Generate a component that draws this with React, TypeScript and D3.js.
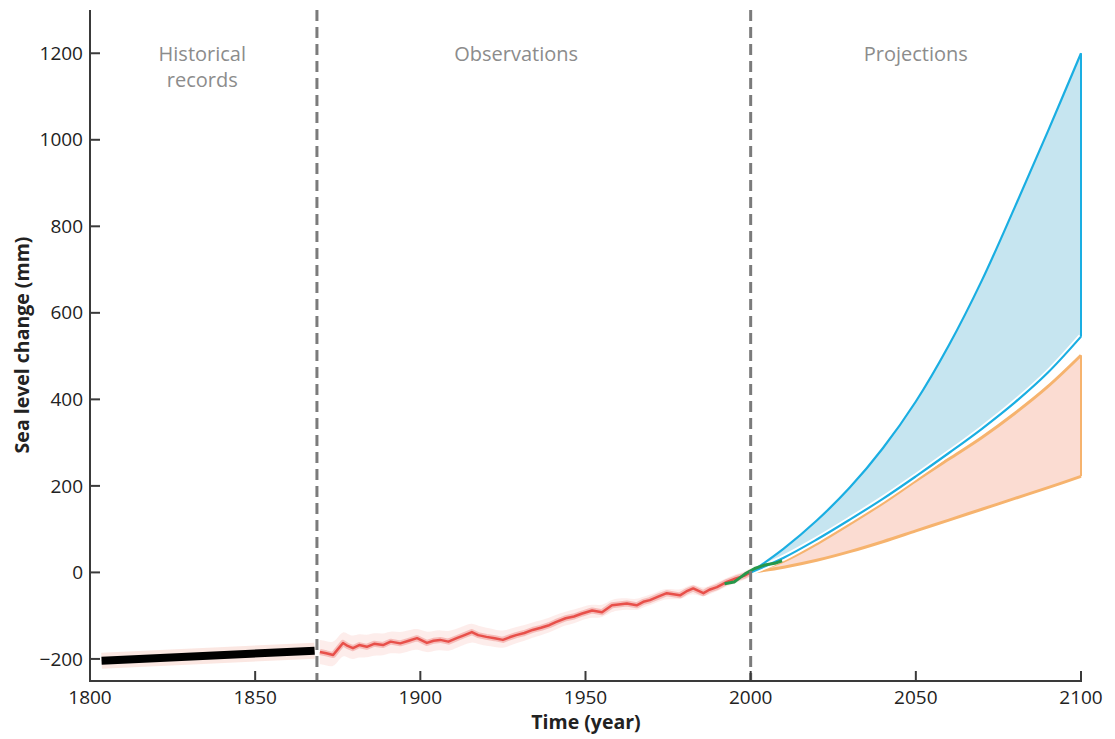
import React from "react";
import * as d3 from "d3";

const W = 1115;
const H = 739;

const xTicks = [1800, 1850, 1900, 1950, 2000, 2050, 2100];
const yTicks = [-200, 0, 200, 400, 600, 800, 1000, 1200];
const eraLabels = [
  { lines: ["Historical", "records"], year: 1834 },
  { lines: ["Observations"], year: 1929 },
  { lines: ["Projections"], year: 2050 },
];
const dividers = [1868.7, 2000];

// historical (tide-gauge based) trend
const historical: [number, number][] = [
  [1803.5, -204],
  [1868, -181],
];

// observations: [year, value, uncertainty]
const observations: [number, number, number][] = [
  [1869.6, -184, 28],
  [1871.5, -187, 28],
  [1873.6, -191, 28],
  [1875, -178, 28],
  [1876.6, -163, 28],
  [1878, -170, 27],
  [1879.6, -175, 27],
  [1881.5, -168, 27],
  [1883.8, -172, 26],
  [1886, -165, 26],
  [1888.7, -168, 25],
  [1891, -160, 25],
  [1893.9, -164, 25],
  [1896.5, -158, 24],
  [1899, -152, 24],
  [1902, -163, 24],
  [1904, -158, 23],
  [1906, -156, 23],
  [1908.5, -160, 23],
  [1911, -152, 22],
  [1913, -146, 22],
  [1915.6, -138, 22],
  [1917.5, -145, 21],
  [1920, -149, 21],
  [1922.5, -152, 20],
  [1925, -156, 20],
  [1927, -150, 19],
  [1929, -145, 19],
  [1931.5, -140, 18],
  [1934, -133, 18],
  [1936.5, -128, 17],
  [1939, -122, 17],
  [1941, -115, 17],
  [1944, -106, 16],
  [1946.5, -102, 16],
  [1949, -95, 15],
  [1952, -88, 15],
  [1955, -92, 14],
  [1958, -76, 14],
  [1960, -74, 14],
  [1962.5, -72, 13],
  [1965.5, -76, 13],
  [1967.5, -68, 12],
  [1969.5, -64, 12],
  [1972, -56, 12],
  [1974.6, -48, 12],
  [1978.6, -53, 11],
  [1980.5, -44, 11],
  [1982.6, -37, 11],
  [1985.7, -48, 10],
  [1987.5, -40, 10],
  [1989.8, -34, 10],
  [1992.8, -22, 10],
  [1995.5, -14, 10],
  [1998, -8, 10],
  [2000, 0, 10],
];

// satellite altimetry
const satellite: [number, number][] = [
  [1992.1, -26],
  [1995, -22],
  [1996.8, -12],
  [1998.6, -2],
  [2001.2, 9],
  [2004.2, 17],
  [2007.3, 21],
  [2009.5, 27],
];

const projYears = [2000, 2010, 2020, 2030, 2040, 2050, 2060, 2070, 2080, 2090, 2100];
const blueUpper = [0, 55, 120, 196, 287, 395, 525, 675, 845, 1020, 1200];
const blueLower = [0, 34, 76, 122, 170, 222, 276, 332, 393, 462, 545];
const orangeUpper = [0, 26, 66, 112, 160, 212, 262, 312, 368, 430, 502];
const orangeLower = [0, 12, 28, 48, 71, 96, 121, 146, 171, 196, 222];

const M = { left: 90, right: 1081, top: 10, bottom: 681 };

export default function App() {
  const x = d3.scaleLinear().domain([1800, 2100]).range([M.left, M.right]);
  const y = d3.scaleLinear().domain([-251, 1300]).range([M.bottom, M.top]);

  const line = d3
    .line<[number, number]>()
    .x((d) => x(d[0]))
    .y((d) => y(d[1]));

  const obsLine = d3
    .line<[number, number, number]>()
    .x((d) => x(d[0]))
    .y((d) => y(d[1]));
  const obsBand = d3
    .area<[number, number, number]>()
    .x((d) => x(d[0]))
    .y0((d) => y(d[1] - d[2]))
    .y1((d) => y(d[1] + d[2]))
    .curve(d3.curveBasis);

  const curve = d3.curveCatmullRom.alpha(0.5);
  const proj = (a: number[], b: number[]) =>
    d3
      .area<number>()
      .x((_, i) => x(projYears[i]))
      .y0((_, i) => y(a[i]))
      .y1((_, i) => y(b[i]))
      .curve(curve)(projYears);
  const projLine = (a: number[]) =>
    d3
      .line<number>()
      .x((_, i) => x(projYears[i]))
      .y((_, i) => y(a[i]))
      .curve(curve)(projYears);

  const font = "'Open Sans', 'Noto Sans', sans-serif";
  const axisColor = "#3a3a3a";

  return (
    <svg
      width={W}
      height={H}
      style={{ position: "absolute", left: 0, top: 0, background: "#fff" }}
      fontFamily={font}
    >
      {/* era labels */}
      {eraLabels.map((l, i) =>
        l.lines.map((t, j) => (
          <text
            key={i + "-" + j}
            x={x(l.year)}
            y={61 + j * 26}
            textAnchor="middle"
            fontSize={20}
            fill="#8c8c8c"
          >
            {t}
          </text>
        ))
      )}

      {/* projections */}
      <path d={proj(orangeLower, orangeUpper) || ""} fill="#fbdcd2" />
      <path d={proj(blueLower, blueUpper) || ""} fill="#c6e5f0" />
      <path d={projLine(orangeLower) || ""} fill="none" stroke="#f6b36e" strokeWidth={3} />
      <path d={projLine(orangeUpper) || ""} fill="none" stroke="#f6b36e" strokeWidth={3} />
      <line
        x1={x(2100)}
        x2={x(2100)}
        y1={y(orangeLower[orangeLower.length - 1])}
        y2={y(orangeUpper[orangeUpper.length - 1])}
        stroke="#f6b36e"
        strokeWidth={2}
      />
      <path d={projLine(blueLower) || ""} fill="none" stroke="#ffffff" strokeWidth={6} />
      <path d={projLine(blueUpper) || ""} fill="none" stroke="#1aaee2" strokeWidth={2.2} />
      <path d={projLine(blueLower) || ""} fill="none" stroke="#1aaee2" strokeWidth={2.2} />
      <line
        x1={x(2100)}
        x2={x(2100)}
        y1={y(blueLower[blueLower.length - 1])}
        y2={y(blueUpper[blueUpper.length - 1])}
        stroke="#1aaee2"
        strokeWidth={2}
      />

      {/* historical */}
      <path
        d={line(historical) || ""}
        fill="none"
        stroke="#f3b0a0"
        strokeOpacity={0.3}
        strokeWidth={16}
      />
      <path d={line(historical) || ""} fill="none" stroke="#000" strokeWidth={8} />

      {/* observations */}
      <path d={obsBand(observations) || ""} fill="#ec6a5c" fillOpacity={0.12} />
      <path
        d={obsLine(observations) || ""}
        fill="none"
        stroke="#e8504a"
        strokeOpacity={0.3}
        strokeWidth={6}
        strokeLinejoin="round"
      />
      <path
        d={obsLine(observations) || ""}
        fill="none"
        stroke="#e8504a"
        strokeWidth={2.5}
        strokeLinejoin="round"
      />

      {/* satellite */}
      <path
        d={line(satellite) || ""}
        fill="none"
        stroke="#27974a"
        strokeWidth={3}
        strokeLinejoin="round"
      />

      {/* dividers */}
      {dividers.map((d, i) => (
        <line
          key={i}
          x1={x(d)}
          x2={x(d)}
          y1={M.top}
          y2={M.bottom}
          stroke="#7b7b7b"
          strokeWidth={3}
          strokeDasharray="11 6"
        />
      ))}

      {/* axes */}
      <line x1={M.left} x2={M.left} y1={M.top} y2={M.bottom} stroke={axisColor} strokeWidth={2} />
      <line x1={M.left - 1} x2={M.right + 1} y1={M.bottom} y2={M.bottom} stroke={axisColor} strokeWidth={2} />
      {yTicks.map((t) => (
        <g key={t}>
          <line x1={M.left} x2={M.left + 10} y1={y(t)} y2={y(t)} stroke={axisColor} strokeWidth={2} />
          <text
            x={M.left - 7}
            y={y(t)}
            dy="0.35em"
            textAnchor="end"
            fontSize={19}
            fill="#222"
          >
            {t < 0 ? "\u2212" + Math.abs(t) : t}
          </text>
        </g>
      ))}
      {xTicks.map((t) => (
        <g key={t}>
          <line x1={x(t)} x2={x(t)} y1={M.bottom} y2={M.bottom - 10} stroke={axisColor} strokeWidth={2} />
          <text x={x(t)} y={704} textAnchor="middle" fontSize={19} fill="#222">
            {t}
          </text>
        </g>
      ))}

      <text
        x={586}
        y={729}
        textAnchor="middle"
        fontSize={19.5}
        fontWeight="bold"
        fill="#222"
      >
        Time (year)
      </text>
      <text
        transform={`translate(29, 345) rotate(-90)`}
        textAnchor="middle"
        fontSize={19.5}
        fontWeight="bold"
        fill="#222"
      >
        Sea level change (mm)
      </text>
    </svg>
  );
}
